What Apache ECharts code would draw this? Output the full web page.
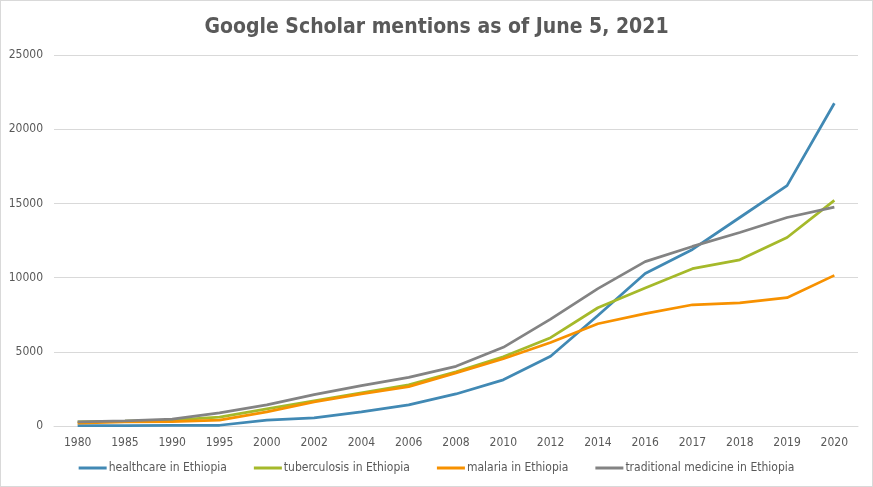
<!DOCTYPE html>
<html>
<head>
<meta charset="utf-8">
<script src="https://cdn.jsdelivr.net/npm/echarts@6/dist/echarts.min.js"></script>
<style>
html, body { margin: 0; padding: 0; background: #fff; }
#main { width: 871px; height: 485px; border: 1px solid #d9d9d9; }
</style>
</head>
<body>
<div id="main"></div>
<script>
// years on the x axis
var years = ['1980', '1985', '1990', '1995', '2000', '2002', '2004', '2006', '2008',
	'2010', '2012', '2014', '2016', '2017', '2018', '2019', '2020'];

// mentions per search term
var healthcare = [20, 30, 50, 50, 400, 550, 950, 1420, 2160, 3110, 4700, 7450, 10270, 11900, 14050, 16200, 21750];
var tuberculosis = [270, 330, 400, 600, 1150, 1690, 2230, 2770, 3650, 4660, 5950, 7970, 9300, 10600, 11200, 12700, 15200];
var malaria = [200, 270, 300, 400, 950, 1620, 2160, 2650, 3580, 4530, 5630, 6890, 7570, 8170, 8300, 8650, 10150];
var traditional = [270, 340, 470, 880, 1420, 2120, 2720, 3280, 4020, 5300, 7200, 9260, 11080, 12100, 13040, 14050, 14750];

var yTicks = [0, 5000, 10000, 15000, 20000, 25000];

var labelFont = "'Liberation Sans Narrow', 'DejaVu Sans Condensed', sans-serif";

function lineSeries(name, data, color) {
	return {
		name: name,
		type: 'line',
		data: data,
		symbol: 'none',
		smooth: false,
		lineStyle: { color: color, width: 2.75 },
		itemStyle: { color: color }
	};
}

var myChart = echarts.init(document.getElementById('main'));

var option = {
	animation: false,
	title: {
		text: 'Google Scholar mentions as of June 5, 2021',
		left: 'center',
		top: 11,
		textStyle: {
			fontFamily: labelFont,
			fontSize: 21,
			fontWeight: 'bold',
			color: '#595959'
		}
	},
	legend: {
		bottom: 7,
		left: 'center',
		itemWidth: 28,
		itemHeight: 3,
		itemGap: 27,
		icon: 'rect',
		textStyle: { fontFamily: labelFont, fontSize: 12, color: '#595959', padding: [0, 0, 0, -3] },
		data: ['healthcare in Ethiopia', 'tuberculosis in Ethiopia', 'malaria in Ethiopia', 'traditional medicine in Ethiopia']
	},
	grid: {
		left: 53,
		right: 14,
		top: 54,
		bottom: 60
	},
	xAxis: {
		type: 'category',
		data: years,
		boundaryGap: true,
		axisLine: { lineStyle: { color: '#d9d9d9' } },
		axisTick: { show: false },
		axisLabel: { fontFamily: labelFont, fontSize: 12, color: '#595959', margin: 11 }
	},
	yAxis: {
		type: 'value',
		min: yTicks[0],
		max: yTicks[yTicks.length - 1],
		interval: 5000,
		axisLine: { show: false },
		axisTick: { show: false },
		splitLine: { lineStyle: { color: '#d9d9d9' } },
		axisLabel: {
			fontFamily: labelFont, fontSize: 12, color: '#595959', margin: 11,
			formatter: function (v) { return String(v); }
		}
	},
	series: [
		lineSeries('healthcare in Ethiopia', healthcare, '#4189B4'),
		lineSeries('tuberculosis in Ethiopia', tuberculosis, '#A5B92A'),
		lineSeries('malaria in Ethiopia', malaria, '#F79100'),
		lineSeries('traditional medicine in Ethiopia', traditional, '#838383')
	]
};

myChart.setOption(option);
</script>
</body>
</html>
